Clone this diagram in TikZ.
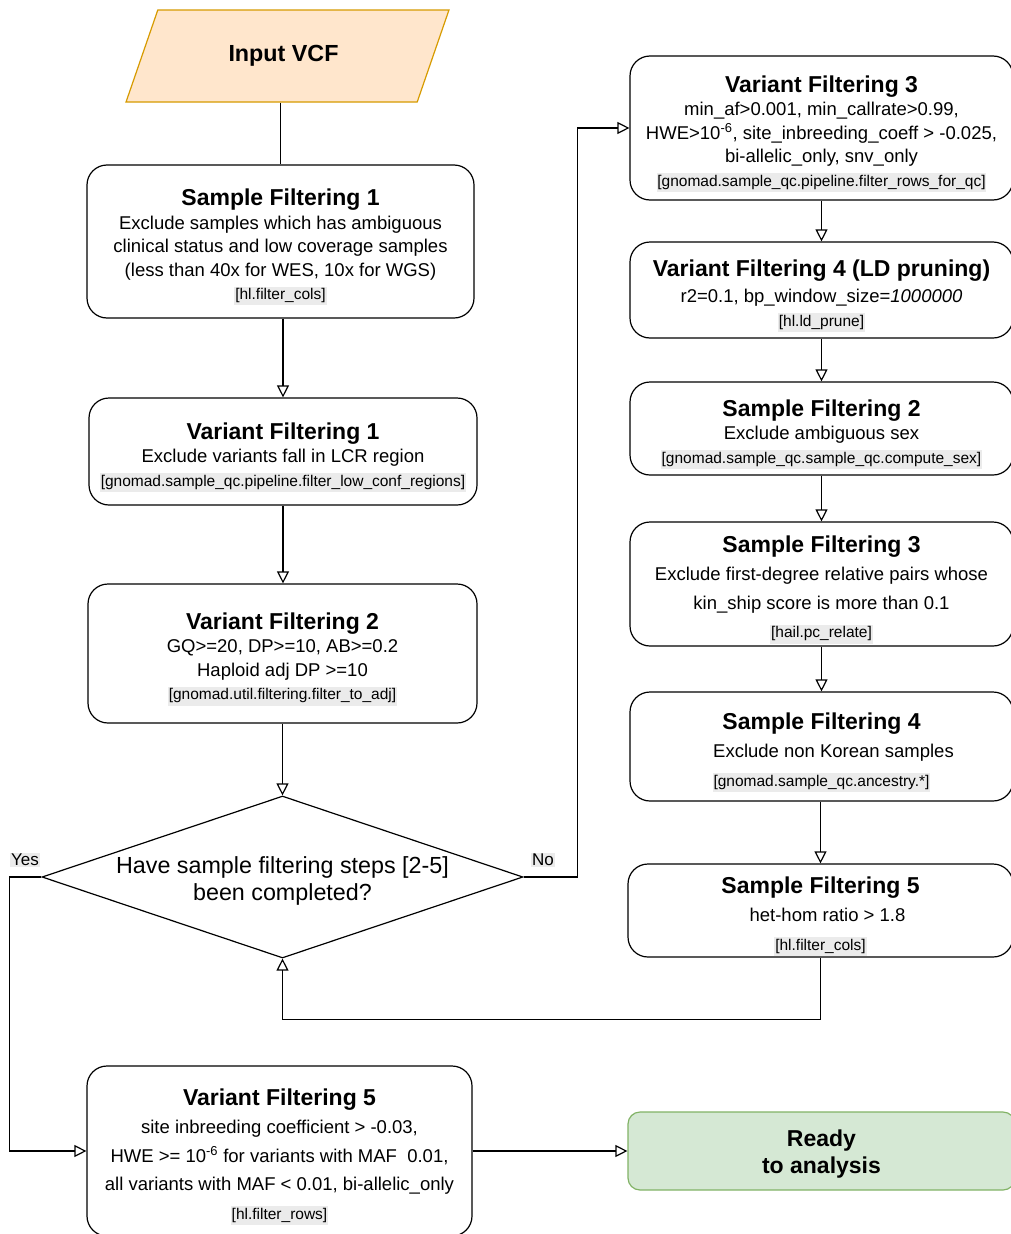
\documentclass[tikz,border=0pt]{standalone}
\usepackage{fontspec}
\setmainfont{Liberation Sans}
\usetikzlibrary{shapes.geometric,arrows.meta}
\definecolor{vcffill}{HTML}{FFE6CC}
\definecolor{vcfline}{HTML}{D79B00}
\definecolor{readyfill}{HTML}{D5E8D4}
\definecolor{readyline}{HTML}{82B366}
\definecolor{codegray}{HTML}{EBEBEB}
\newcommand{\hd}[1]{{\fontsize{23}{27}\selectfont\bfseries\rule{0pt}{28pt}#1}}
\newcommand{\cd}[1]{{\fontsize{15.5}{17}\selectfont\setlength{\fboxsep}{0.8pt}\colorbox{codegray}{\strut #1}}}

\begin{document}
\begin{tikzpicture}[x=1pt, y=-1pt, line width=1.2pt,
  box/.style={draw, rounded corners=20pt, align=center, inner sep=0pt, font=\fontsize{18.5}{23.5}\selectfont},
  loose/.style={font=\fontsize{18.5}{28.5}\selectfont},
  arr/.style={-{Triangle[open, length=12pt, width=12pt]}},
  tag/.style={fill=codegray, inner sep=1.5pt, font=\fontsize{17}{20}\selectfont}]
\useasboundingbox (0,0) rectangle (1011,1234);
\fill[white] (0,0) rectangle (1011,1234);

\node[trapezium, trapezium left angle=55.6, trapezium right angle=124.4, trapezium stretches=true, minimum width=323pt, minimum height=92pt, inner sep=0pt, draw=vcfline, fill=vcffill, font=\fontsize{23.3}{26}\selectfont\bfseries] (in) at (287.5,56) {Input VCF\hspace*{8pt}};

\node[box, minimum width=387pt, minimum height=153pt] (sf1) at (280.5,241.5) {\hd{Sample Filtering 1}\\Exclude samples which has ambiguous\\clinical status and low coverage samples\\(less than 40x for WES, 10x for WGS)\\\cd{[hl.filter\_cols]}};
\node[box, minimum width=388pt, minimum height=107pt] (vf1) at (283,451.5) {\hd{Variant Filtering 1}\\Exclude variants fall in LCR region\\\cd{[gnomad.sample\_qc.pipeline.filter\_low\_conf\_regions]}};
\node[box, minimum width=389pt, minimum height=139pt] (vf2) at (282.5,653.5) {\hd{Variant Filtering 2}\\GQ>=20, DP>=10, AB>=0.2\\Haploid adj DP >=10\\\cd{[gnomad.util.filtering.filter\_to\_adj]}};
\node[diamond, draw, shape aspect=3, inner xsep=-40pt, inner ysep=0pt, minimum width=481pt, minimum height=162pt, align=center, font=\fontsize{23.3}{27}\selectfont] (dia) at (282.5,877) {\rule{0pt}{25pt}Have sample filtering steps [2-5]\\been completed?};

\node[box, minimum width=383pt, minimum height=144pt] (vf3) at (821.5,128) {\hd{Variant Filtering 3}\\min\_af>0.001, min\_callrate>0.99,\\HWE>10\textsuperscript{-6}, site\_inbreeding\_coeff > -0.025,\\bi-allelic\_only, snv\_only\\\cd{[gnomad.sample\_qc.pipeline.filter\_rows\_for\_qc]}};
\node[box, minimum width=383pt, minimum height=96pt] (vf4) at (821.5,290) {\hd{Variant Filtering 4 (LD pruning)}\\[3pt]r2=0.1, bp\_window\_size=\textit{1000000}\\\cd{[hl.ld\_prune]}};
\node[box, minimum width=383pt, minimum height=93pt] (sf2) at (821.5,428.5) {\hd{Sample Filtering 2}\\Exclude ambiguous sex\\\cd{[gnomad.sample\_qc.sample\_qc.compute\_sex]}};
\node[box, loose, minimum width=383pt, minimum height=124pt] (sf3) at (821.5,584) {\hd{Sample Filtering 3}\\Exclude first-degree relative pairs whose\\kin\_ship score is more than 0.1\\\cd{[hail.pc\_relate]}};
\node[box, loose, minimum width=383pt, minimum height=109pt] (sf4) at (821.5,746.5) {\hd{Sample Filtering 4}\\\hspace*{24pt}Exclude non Korean samples\\\cd{[gnomad.sample\_qc.ancestry.*]}};
\node[box, loose, minimum width=385pt, minimum height=93pt] (sf5) at (820.5,910.5) {\hd{Sample Filtering 5}\\\hspace*{14pt}het-hom ratio > 1.8\\\cd{[hl.filter\_cols]}};

\node[box, loose, minimum width=385pt, minimum height=170pt] (vf5) at (279.5,1151) {\hd{Variant Filtering 5}\\site inbreeding coefficient > -0.03,\\HWE >= 10\textsuperscript{-6} for variants with MAF~ 0.01,\\all variants with MAF < 0.01, bi-allelic\_only\\\cd{[hl.filter\_rows]}};
\node[box, draw=readyline, fill=readyfill, rounded corners=12pt, minimum width=387pt, minimum height=78pt, font=\fontsize{23}{27}\selectfont\bfseries] (ready) at (821.5,1151) {\rule{0pt}{23pt}Ready\\to analysis};

\node[tag] (yes) at (25,860) {Yes};
\node[tag] (no) at (543,860) {No};

\draw (in.south -| sf1.north) -- (sf1.north);
\draw[arr] (sf1.south -| vf1.north) -- (vf1.north);
\draw[arr] (vf1.south) -- (vf1.south |- vf2.north);
\draw[arr] (vf2.south) -- (vf2.south |- dia.north);
\draw[arr] (dia.east) -- ++(54,0) |- (vf3.west);
\draw[arr] (dia.west) -- ++(-32,0) |- (vf5.west);
\draw[arr] (vf3) -- (vf4);
\draw[arr] (vf4) -- (sf2);
\draw[arr] (sf2) -- (sf3);
\draw[arr] (sf3) -- (sf4);
\draw[arr] (sf4.south -| sf5.north) -- (sf5.north);
\draw[arr] (sf5.south) -- ++(0,62) -| (dia.south);
\draw[arr] (vf5) -- (ready);
\end{tikzpicture}
\end{document}
